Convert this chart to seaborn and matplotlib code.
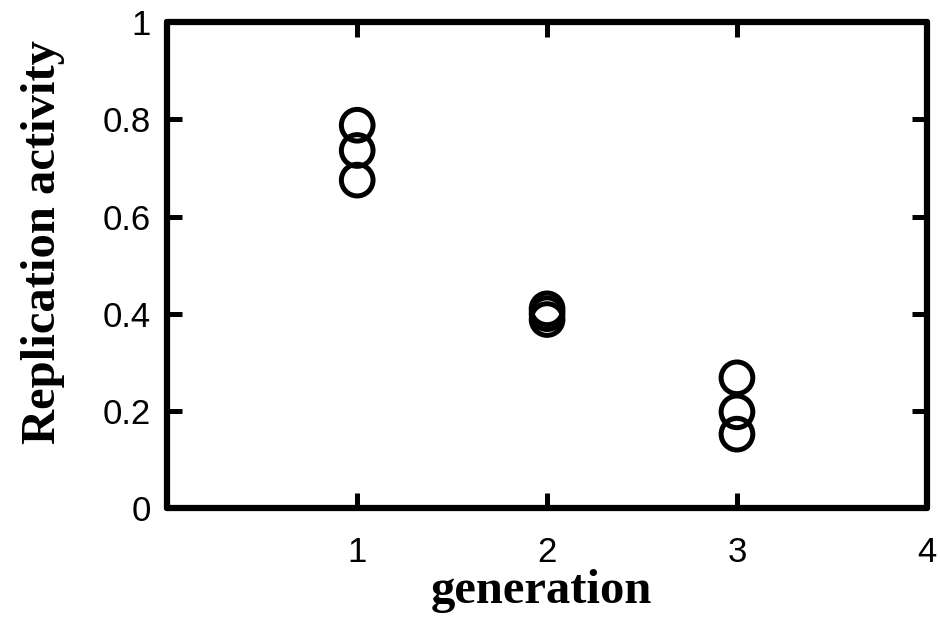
import matplotlib
matplotlib.use("Agg")
import matplotlib.pyplot as plt
import seaborn as sns
import pandas as pd

# Replicate measurements per generation
generation = [1, 1, 1, 2, 2, 2, 3, 3, 3]
activity = [0.788, 0.736, 0.675, 0.410, 0.400, 0.388, 0.268, 0.198, 0.152]

x_ticks = [1, 2, 3, 4]
x_tick_labels = ["1", "2", "3", "4"]
y_ticks = [0, 0.2, 0.4, 0.6, 0.8, 1.0]
y_tick_labels = ["0", "0.2", "0.4", "0.6", "0.8", "1"]

df = pd.DataFrame({"generation": generation, "activity": activity})

sns.set_style("white")
plt.rcParams["font.family"] = ["Liberation Sans", "DejaVu Sans"]

fig = plt.figure(figsize=(9.4, 6.18), dpi=100)
ax = fig.add_axes([0.178, 0.178, 0.808, 0.786])

sns.scatterplot(data=df, x="generation", y="activity", ax=ax,
                marker="o", s=520, facecolors="none", edgecolor="black",
                linewidth=3.6, legend=False, zorder=3)

ax.set_xlim(0, 4)
ax.set_ylim(0, 1)
ax.set_xticks(x_ticks)
ax.set_xticklabels(x_tick_labels)
ax.set_yticks(y_ticks)
ax.set_yticklabels(y_tick_labels)

for side in ["left", "right", "top", "bottom"]:
    ax.spines[side].set_visible(True)
    ax.spines[side].set_color("black")
    ax.spines[side].set_linewidth(4.5)
    ax.spines[side].set_capstyle("round")

ax.tick_params(axis="both", which="major", direction="in", length=11,
               width=3.6, color="black", labelcolor="black", labelsize=25,
               top=True, right=True, bottom=True, left=True)
ax.tick_params(axis="x", pad=20)
ax.tick_params(axis="y", pad=12)
for t in ax.xaxis.get_major_ticks() + ax.yaxis.get_major_ticks():
    for ln in (t.tick1line, t.tick2line):
        ln.set_solid_capstyle("round")

serif = ["Liberation Serif", "DejaVu Serif"]
ax.set_xlabel("generation", family=serif, fontweight="bold", fontsize=35,
              color="black", labelpad=0)
ax.set_ylabel("Replication activity", family=serif, fontweight="bold",
              fontsize=35, color="black", labelpad=12)
ax.xaxis.set_label_coords(0.493, -0.125)
ax.yaxis.set_label_coords(-0.135, 0.547)

fig.savefig("out.png", dpi=100)
